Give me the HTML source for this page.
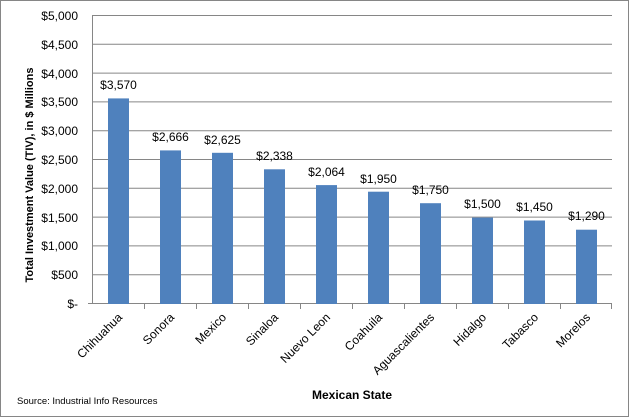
<!DOCTYPE html>
<html><head><style>body{margin:0;background:#fff}svg{display:block;font-family:"Liberation Sans",sans-serif}</style></head><body>
<svg width="630" height="418" viewBox="0 0 630 418">
<rect x="0.5" y="0.5" width="628" height="416" fill="#fff" stroke="#868686"/>
<g stroke="#868686" stroke-width="1">
<line x1="92" y1="15.5" x2="612" y2="15.5"/>
<line x1="92" y1="44.3" x2="612" y2="44.3"/>
<line x1="92" y1="73.1" x2="612" y2="73.1"/>
<line x1="92" y1="101.9" x2="612" y2="101.9"/>
<line x1="92" y1="130.7" x2="612" y2="130.7"/>
<line x1="92" y1="159.5" x2="612" y2="159.5"/>
<line x1="92" y1="188.3" x2="612" y2="188.3"/>
<line x1="92" y1="217.1" x2="612" y2="217.1"/>
<line x1="92" y1="245.9" x2="612" y2="245.9"/>
<line x1="92" y1="274.7" x2="612" y2="274.7"/>
<line x1="92.5" y1="15" x2="92.5" y2="304"/>
<line x1="88" y1="303.5" x2="612" y2="303.5"/>
</g>
<g stroke="#868686">
<line x1="144.5" y1="304" x2="144.5" y2="309"/><line x1="196.5" y1="304" x2="196.5" y2="309"/><line x1="248.5" y1="304" x2="248.5" y2="309"/><line x1="300.5" y1="304" x2="300.5" y2="309"/><line x1="352.5" y1="304" x2="352.5" y2="309"/><line x1="404.5" y1="304" x2="404.5" y2="309"/><line x1="456.5" y1="304" x2="456.5" y2="309"/><line x1="508.5" y1="304" x2="508.5" y2="309"/><line x1="560.5" y1="304" x2="560.5" y2="309"/><line x1="611.5" y1="304" x2="611.5" y2="309"/>
</g>
<g fill="#4f81bd">
<rect x="108" y="98.4" width="21" height="205.6"/>
<rect x="160" y="150.4" width="21" height="153.6"/>
<rect x="212" y="152.8" width="21" height="151.2"/>
<rect x="264" y="169.3" width="21" height="134.7"/>
<rect x="316" y="185.1" width="21" height="118.9"/>
<rect x="368" y="191.7" width="21" height="112.3"/>
<rect x="420" y="203.2" width="21" height="100.8"/>
<rect x="472" y="217.6" width="21" height="86.4"/>
<rect x="524" y="220.5" width="21" height="83.5"/>
<rect x="576" y="229.7" width="21" height="74.3"/>
</g>
<g font-size="12" text-anchor="end" fill="#000">
<text x="78" y="20">$5,000</text><text x="78" y="49">$4,500</text><text x="78" y="78">$4,000</text><text x="78" y="106">$3,500</text><text x="78" y="135">$3,000</text><text x="78" y="164">$2,500</text><text x="78" y="193">$2,000</text><text x="78" y="222">$1,500</text><text x="78" y="250">$1,000</text><text x="78" y="279">$500</text><text x="78" y="308">$-</text>
</g>
<g font-size="12" text-anchor="middle">
<text x="118.5" y="89">$3,570</text><text x="170.5" y="141">$2,666</text><text x="222.5" y="144">$2,625</text><text x="274.5" y="160">$2,338</text><text x="326.5" y="176">$2,064</text><text x="378.5" y="183">$1,950</text><text x="430.5" y="194">$1,750</text><text x="482.5" y="208">$1,500</text><text x="534.5" y="211">$1,450</text><text x="586.5" y="220">$1,290</text>
</g>
<g font-size="12" text-anchor="end">
<text transform="translate(123,318) rotate(-45)">Chihuahua</text>
<text transform="translate(175,318) rotate(-45)">Sonora</text>
<text transform="translate(227,318) rotate(-45)">Mexico</text>
<text transform="translate(279,318) rotate(-45)">Sinaloa</text>
<text transform="translate(331,318) rotate(-45)">Nuevo Leon</text>
<text transform="translate(383,318) rotate(-45)">Coahuila</text>
<text transform="translate(435,318) rotate(-45)">Aguascalientes</text>
<text transform="translate(487,318) rotate(-45)">Hidalgo</text>
<text transform="translate(539,318) rotate(-45)">Tabasco</text>
<text transform="translate(591,318) rotate(-45)">Morelos</text>
</g>
<text x="352" y="399" font-size="12" font-weight="bold" text-anchor="middle">Mexican State</text>
<text transform="translate(33,175) rotate(-90)" font-size="11" font-weight="bold" text-anchor="middle">Total Investment Value (TIV), in $ Millions</text>
<text x="17" y="404" font-size="9.5">Source: Industrial Info Resources</text>
</svg>
</body></html>
